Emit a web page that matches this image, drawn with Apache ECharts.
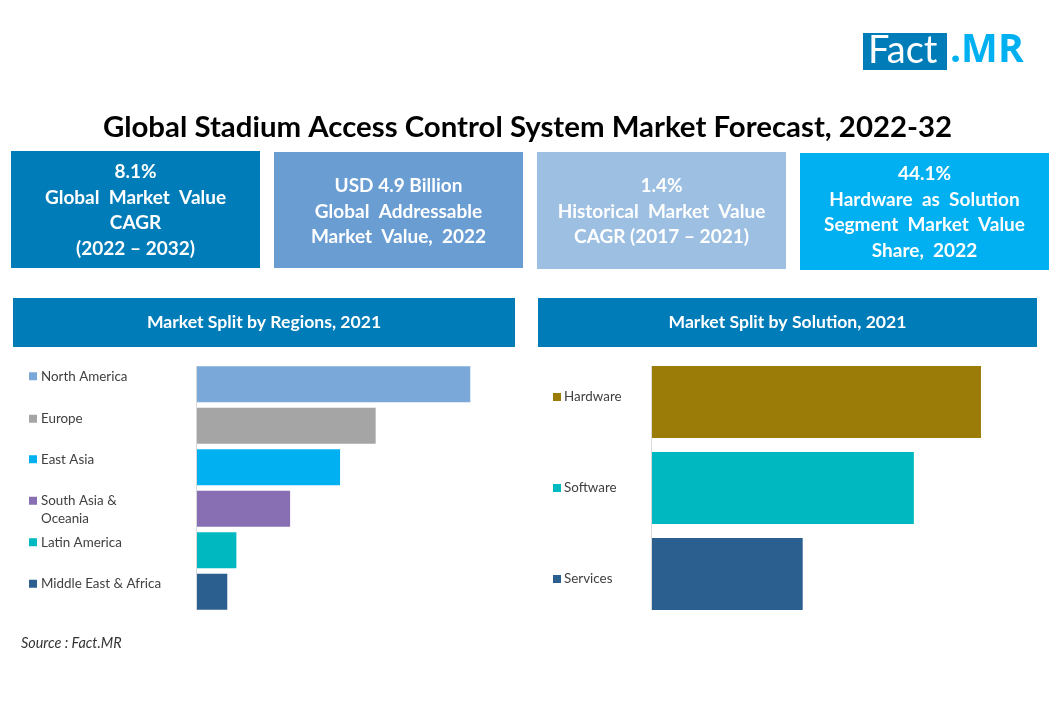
<!DOCTYPE html>
<html>
<head>
<meta charset="utf-8">
<style>html,body{margin:0;padding:0;background:#fff}#main{width:1056px;height:720px}</style>
<script src="https://cdn.jsdelivr.net/npm/echarts@6/dist/echarts.min.js"></script>
</head>
<body>
<div id="main"></div>
<script>
const FONT = 'Lato';
const chartTitle = 'Global Stadium Access Control System Market Forecast, 2022-32';

// kpi boxes
const kpiTexts = [
  '8.1%\nGlobal  Market  Value\nCAGR\n(2022 – 2032)',
  'USD 4.9 Billion\nGlobal  Addressable\nMarket  Value,  2022',
  '1.4%\nHistorical  Market  Value\nCAGR (2017 – 2021)',
  '44.1%\nHardware  as  Solution\nSegment  Market  Value\nShare,  2022'
];
const kpiColors = ['#007DB8', '#6A9ED3', '#9DBFE2', '#00B0F0'];

// market split by regions (%)
const regionNames = ['North America', 'Europe', 'East Asia', 'South Asia &\nOceania', 'Latin America', 'Middle East & Africa'];
const regionShares = [36.1, 23.6, 18.9, 12.3, 5.2, 4.0];
const regionColors = ['#7AA9D9', '#A5A5A5', '#00B0F0', '#886FB3', '#00B8BF', '#2B5F8F'];

// market split by solution
const solutionNames = ['Hardware', 'Software', 'Services'];
const solutionShares = [44.1, 35.1, 20.2];
const solutionColors = ['#9C7C08', '#00B8BF', '#2B5F8F'];

// the legend-like labels do not sit exactly on the bar centres in the original
const regionLabelNudge = [-8, -7, -8, 1, -8, -8];
const solutionLabelNudge = [-5, 0, 5];

function swatchRich(colors, textGap) {
  const rich = {
    t: { fontFamily: FONT, fontSize: 13.4, color: '#404040', lineHeight: 18 },
    indent: { width: 8 + textGap, height: 8 },
    gap: { width: textGap, height: 8 }
  };
  colors.forEach((c, i) => {
    rich['s' + i] = { width: 8, height: 8, backgroundColor: c };
  });
  // blank lines used to push a label up or down
  for (let h = 1; h <= 16; h++) {
    rich['pad' + h] = { height: h, lineHeight: h, width: 1 };
  }
  return rich;
}

function swatchLabel(names, nudge) {
  return function (value) {
    const i = names.indexOf(value);
    const lines = value.split('\n').map((l, n) =>
      (n === 0 ? '{s' + i + '|}{gap|}' : '{indent|}') + '{t|' + l + '}');
    const shift = nudge[i] * 2;
    if (shift < 0) lines.push('{pad' + (-shift) + '|}');
    if (shift > 0) lines.unshift('{pad' + shift + '|}');
    return lines.join('\n');
  };
}

function barSeries(values, colors, idx, width) {
  return {
    type: 'bar',
    xAxisIndex: idx,
    yAxisIndex: idx,
    barWidth: width,
    silent: true,
    data: values.map((v, i) => ({ value: v, itemStyle: { color: colors[i] } }))
  };
}

function catAxis(names, colors, nudge, idx, margin, textGap) {
  return {
    type: 'category',
    gridIndex: idx,
    inverse: true,
    data: names,
    axisLine: { show: false },
    axisTick: { show: false },
    axisLabel: {
      align: 'left',
      margin: margin,
      interval: 0,
      formatter: swatchLabel(names, nudge),
      rich: swatchRich(colors, textGap)
    }
  };
}

function box(x, y, w, h, color, text, size, dy) {
  return {
    type: 'rect',
    shape: { x: x, y: y, width: w, height: h },
    style: { fill: color },
    textContent: {
      style: { text: text, fill: '#fff', fontFamily: FONT, fontWeight: 'bold', fontSize: size, lineHeight: 25.7, align: 'center', verticalAlign: 'middle' }
    },
    textConfig: { position: 'inside', offset: [0, dy] }
  };
}

function axisLine(x, y1, y2) {
  return { type: 'line', shape: { x1: x, y1: y1, x2: x, y2: y2 }, style: { stroke: '#D9D9D9', lineWidth: 1 } };
}

const chart = echarts.init(document.getElementById('main'));
chart.setOption({
  animation: false,
  backgroundColor: '#fff',
  title: [
    { text: chartTitle, left: 522.5, top: 108, textAlign: 'center', textStyle: { fontFamily: FONT, fontWeight: 'bold', fontSize: 29.4, color: '#000' } },
    { text: 'Source : Fact.MR', left: 16, top: 631.5, textStyle: { fontFamily: FONT, fontStyle: 'italic', fontWeight: 'normal', fontSize: 14.4, color: '#333' } }
  ],
  grid: [
    { left: 197, top: 363.5, width: 302.8, height: 249 },
    { left: 652, top: 359, width: 373, height: 258 }
  ],
  xAxis: [
    { type: 'value', gridIndex: 0, min: 0, max: 40, show: false },
    { type: 'value', gridIndex: 1, min: 0, max: 50, show: false }
  ],
  yAxis: [
    catAxis(regionNames, regionColors, regionLabelNudge, 0, 168, 4),
    catAxis(solutionNames, solutionColors, solutionLabelNudge, 1, 99, 3)
  ],
  series: [
    barSeries(regionShares, regionColors, 0, 36),
    barSeries(solutionShares, solutionColors, 1, 72)
  ],
  graphic: [
    box(11, 151, 249, 117, kpiColors[0], kpiTexts[0], 19, 1),
    box(274, 152, 249, 116, kpiColors[1], kpiTexts[1], 19, 1.5),
    box(537, 152, 249, 117, kpiColors[2], kpiTexts[2], 19, 1),
    box(800, 153, 249, 117, kpiColors[3], kpiTexts[3], 19, 1),
    box(13, 298, 502, 49, '#007DB8', 'Market Split by Regions, 2021', 17.6, 0),
    box(538, 298, 499, 49, '#007DB8', 'Market Split by Solution, 2021', 17.6, 0),
    axisLine(196.5, 366, 610),
    axisLine(651.5, 366, 610),
    // logo
    box(863, 33, 84, 37, '#007DB8', '', 16, 0),
    { type: 'text', style: { x: 868, y: 51, text: 'Fact', fill: '#fff', fontFamily: FONT, fontSize: 38, verticalAlign: 'middle' } },
    { type: 'text', style: { x: 950, y: 51, text: '.MR', fill: '#00B0F0', fontFamily: 'Open Sans', fontWeight: 'bold', fontSize: 39, verticalAlign: 'middle' } }
  ]
});
</script>
</body>
</html>
